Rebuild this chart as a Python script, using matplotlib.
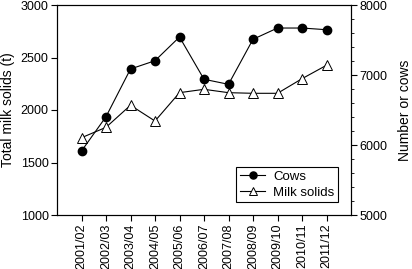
import matplotlib
matplotlib.use("Agg")
import matplotlib.pyplot as plt
from matplotlib.ticker import MultipleLocator

plt.rcParams['font.family'] = ['Liberation Sans', 'DejaVu Sans']
plt.rcParams['font.size'] = 9

# Data
seasons = ["2001/02", "2002/03", "2003/04", "2004/05", "2005/06", "2006/07",
           "2007/08", "2008/09", "2009/10", "2010/11", "2011/12"]
cows = [5914, 6404, 7086, 7204, 7543, 6939, 6867, 7510, 7671, 7671, 7647]
milk_solids = [1736, 1835, 2045, 1895, 2165, 2197, 2165, 2159, 2159, 2298, 2426]

fig = plt.figure(figsize=(4.12, 2.69), dpi=100)
ax = fig.add_axes([57 / 412, 1 - 215 / 269, 294 / 412, 210 / 269])
ax2 = ax.twinx()

x = list(range(len(seasons)))

# milk solids on the left axis
l2, = ax.plot(x, milk_solids, color="black", lw=0.8, marker="^", ms=7,
              mfc="white", mec="black", mew=0.7, label="Milk solids")
# cows on the right axis
l1, = ax2.plot(x, cows, color="black", lw=0.8, marker="o", ms=6,
               mfc="black", mec="black", label="Cows")

ax.set_xlim(-1, 11)
ax.set_ylim(1000, 3000)
ax2.set_ylim(5000, 8000)
ax.set_yticks([1000, 1500, 2000, 2500, 3000])
ax2.set_yticks([5000, 6000, 7000, 8000])
ax2.yaxis.set_minor_locator(MultipleLocator(200))

ax.set_xticks(x)
ax.set_xticklabels(seasons, rotation=90)

ax.set_ylabel("Total milk solids (t)", fontsize=10, labelpad=4)
ax2.set_ylabel("Number or cows", fontsize=10, labelpad=8)

for a in (ax, ax2):
    for s in a.spines.values():
        s.set_linewidth(0.8)
    a.tick_params(direction="out", length=4, width=0.8, pad=2)
    a.tick_params(which="minor", direction="out", length=2.5, width=0.6)

leg = ax2.legend(handles=[l1, l2], loc="lower right", fancybox=False,
                 edgecolor="black", framealpha=1, borderaxespad=0.95,
                 handlelength=1.9, handletextpad=0.6, fontsize=9.5,
                 borderpad=0.3, labelspacing=0.25, markerscale=0.85)
leg.get_frame().set_linewidth(0.8)

fig.savefig("out.png", dpi=100)
